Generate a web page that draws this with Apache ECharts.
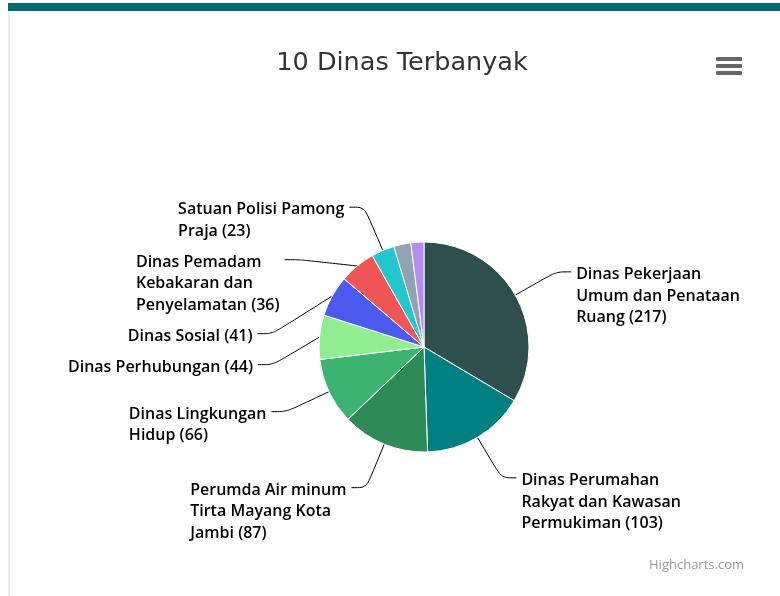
<!DOCTYPE html>
<html lang="en">
<head>
  <meta charset="UTF-8">
  <script src="https://cdn.jsdelivr.net/npm/echarts@6/dist/echarts.min.js"></script>
  <style>
    body {
      margin: 0;
      width: 780px;
      height: 596px;
      background: #fff;
      overflow: hidden;
    }
    #topbar {
      position: absolute;
      left: 8px;
      top: 3px;
      width: 772px;
      height: 8px;
      background: #046a70;
    }
    #side {
      position: absolute;
      left: 8px;
      top: 11px;
      width: 2px;
      height: 585px;
      background: #ececec;
    }
    #main {
      position: absolute;
      left: 0;
      top: 0;
      width: 780px;
      height: 596px;
    }
  </style>
  <title>10 Dinas Terbanyak</title>
</head>
<body>
  <div id="topbar"></div>
  <div id="side"></div>
  <div id="main"></div>

  <script>
    // data (last two slices have no visible label)
    const names = [
      'Dinas Pekerjaan Umum dan Penataan Ruang',
      'Dinas Perumahan Rakyat dan Kawasan Permukiman',
      'Perumda Air minum Tirta Mayang Kota Jambi',
      'Dinas Lingkungan Hidup',
      'Dinas Perhubungan',
      'Dinas Sosial',
      'Dinas Pemadam Kebakaran dan Penyelamatan',
      'Satuan Polisi Pamong Praja',
      'Dinas ke-9',
      'Dinas ke-10'
    ];
    const values = [217, 103, 87, 66, 44, 41, 36, 23, 17, 13];
    const colors = ['#2f4f4f', '#008080', '#2e8b57', '#3cb371', '#90ee90',
      '#4b5bef', '#f05656', '#22c6cf', '#91a3b3', '#b48cf2'];
    // how Highcharts wrapped the labels
    const labelText = [
      'Dinas Pekerjaan\nUmum dan Penataan\nRuang (217)',
      'Dinas Perumahan\nRakyat dan Kawasan\nPermukiman (103)',
      'Perumda Air minum\nTirta Mayang Kota\nJambi (87)',
      'Dinas Lingkungan\nHidup (66)',
      'Dinas Perhubungan (44)',
      'Dinas Sosial (41)',
      'Dinas Pemadam\nKebakaran dan\nPenyelamatan (36)',
      'Satuan Polisi Pamong\nPraja (23)',
      '',
      ''
    ];

    const labelFont = '"Open Sans", "DejaVu Sans", sans-serif';
    const CX = 424, CY = 347;
    const LEN2 = 15;
    const LABEL_GAP = 15;   // space between stacked labels
    const HANG = 8;         // connector meets the first text line

    const pieData = names.map((n, i) => {
      const hide = labelText[i] === '';
      return {
        name: n,
        value: values[i],
        itemStyle: { color: colors[i] },
        label: { show: !hide },
        labelLine: { show: !hide }
      };
    });

    // first pass: remember where echarts puts each label without overlap handling
    const natural = [];
    function collect(p) {
      if (!p.labelLinePoints || labelText[p.dataIndex] === '') return {};
      natural[p.dataIndex] = {
        h: p.labelRect.height,
        pts: p.labelLinePoints.map(q => [q[0], q[1]])
      };
      return { verticalAlign: 'top' };
    }

    // second pass: hang labels under their connector, push down where they collide
    function arrange() {
      const placed = [];
      [-1, 1].forEach(side => {
        const list = [];
        natural.forEach((n, i) => {
          if (!n) return;
          const s = n.pts[1][0] < CX ? -1 : 1;
          if (s === side) list.push(i);
        });
        list.sort((a, b) => natural[a].pts[1][1] - natural[b].pts[1][1]);
        let bottom = -Infinity;
        list.forEach(i => {
          const n = natural[i];
          const p0 = n.pts[0], p1 = n.pts[1];
          let top = p1[1] - HANG;
          let bx = p1[0];
          if (top < bottom + LABEL_GAP) {
            top = bottom + LABEL_GAP;
            const R = Math.hypot(p1[0] - CX, p1[1] - CY);
            const dy = top + HANG - CY;
            bx = CX + side * Math.sqrt(Math.max(R * R - dy * dy, 0));
          }
          const by = top + HANG;
          const ex = bx + side * LEN2;
          placed[i] = {
            x: ex + side * 5,
            y: top,
            verticalAlign: 'top',
            labelLinePoints: [p0, [bx, by], [ex, by]]
          };
          bottom = top + n.h;
        });
      });
      return placed;
    }

    const chart = echarts.init(document.getElementById('main'));
    const option = {
      animation: false,
      title: {
        text: '10 Dinas Terbanyak',
        left: 397,
        top: 45,
        textAlign: 'center',
        textStyle: {
          fontFamily: '"DejaVu Sans", sans-serif',
          fontSize: 25.5,
          fontWeight: 'normal',
          color: '#333'
        }
      },
      graphic: [
        // context menu button
        { type: 'rect', shape: { x: 716, y: 57, width: 26, height: 4, r: 1 }, style: { fill: '#666' } },
        { type: 'rect', shape: { x: 716, y: 64, width: 26, height: 4, r: 1 }, style: { fill: '#666' } },
        { type: 'rect', shape: { x: 716, y: 71, width: 26, height: 4, r: 1 }, style: { fill: '#666' } },
        {
          type: 'text', right: 36, top: 559,
          style: { text: 'Highcharts.com', fill: '#999', fontSize: 13, fontFamily: labelFont }
        }
      ],
      series: [{
        type: 'pie',
        center: [CX, CY],
        radius: 105,
        startAngle: 90,
        clockwise: true,
        avoidLabelOverlap: false,
        itemStyle: { borderColor: '#fff', borderWidth: 1 },
        label: {
          position: 'outside',
          formatter: p => labelText[p.dataIndex].split('\n').map(s => '{a|' + s + '}').join('\n'),
          rich: {
            a: {
              align: 'left',
              color: '#000',
              fontFamily: labelFont,
              fontSize: 16,
              fontWeight: 600,
              lineHeight: 21.5
            }
          }
        },
        labelLine: {
          length: 47,
          length2: LEN2,
          smooth: 0.3,
          lineStyle: { color: '#000', width: 1 }
        },
        labelLayout: collect,
        emphasis: { disabled: true },
        data: pieData
      }]
    };
    chart.setOption(option);

    const placed = arrange();
    chart.setOption({ series: [{ labelLayout: p => placed[p.dataIndex] || {} }] });
  </script>
</body>
</html>
